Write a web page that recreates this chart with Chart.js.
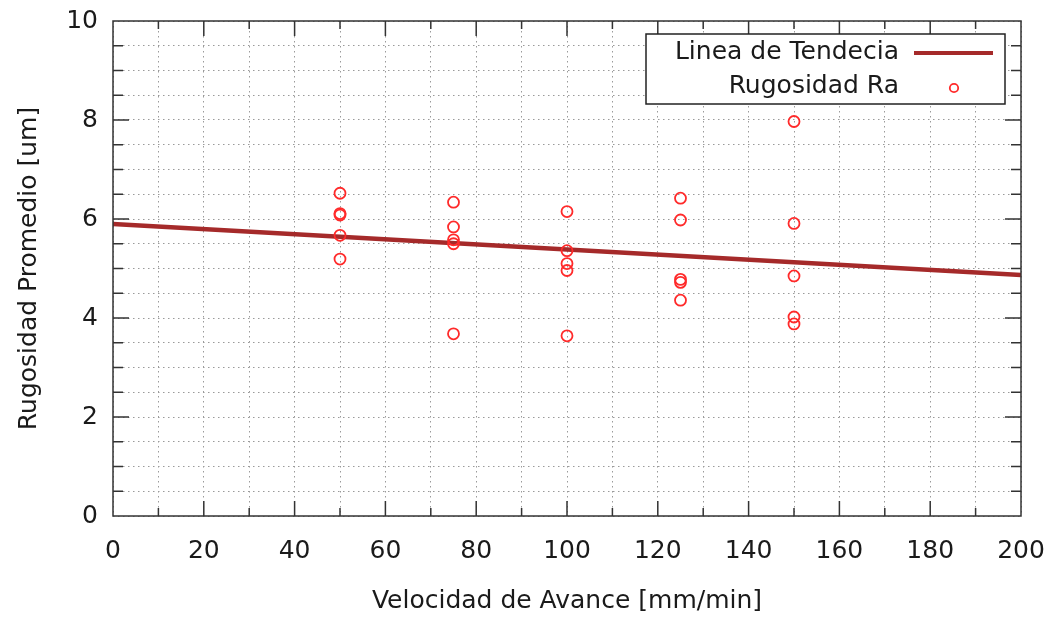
<!DOCTYPE html>
<html>
<head>
<meta charset="utf-8">
<title>Rugosidad vs Velocidad de Avance</title>
<script src="https://cdn.jsdelivr.net/npm/chart.js@4.4.1/dist/chart.umd.min.js"></script>
<style>
  html, body { margin: 0; padding: 0; background: #fff; }
  #wrap { width: 1052px; height: 619px; position: relative; }
</style>
</head>
<body>
<div id="wrap"><canvas id="chart"></canvas></div>
<script>
// datos
const velocidad = [50, 50, 50, 50, 50,
                   75, 75, 75, 75, 75,
                   100, 100, 100, 100, 100,
                   125, 125, 125, 125, 125,
                   150, 150, 150, 150, 150];
const rugosidad = [6.52, 6.11, 6.08, 5.67, 5.19,
                   6.34, 5.84, 5.58, 5.50, 3.68,
                   6.15, 5.36, 5.10, 4.96, 3.64,
                   6.42, 5.98, 4.78, 4.72, 4.36,
                   7.97, 5.91, 4.85, 4.02, 3.88];
const tendenciaX = [0, 200];
const tendenciaY = [5.90, 4.87];
const xTickLabels = [0, 20, 40, 60, 80, 100, 120, 140, 160, 180, 200];
const yTickLabels = [0, 2, 4, 6, 8, 10];

const lineColor = '#a52a2a';
const pointColor = '#ff2a2a';
const frameColor = '#333';

Chart.defaults.font.family = "'DejaVu Sans', Verdana, sans-serif";
Chart.defaults.font.size = 25;
Chart.defaults.color = '#1a1a1a';

// marco estilo gnuplot: borde, marcas hacia dentro y leyenda en caja
const gnuplotFrame = {
  id: 'gnuplotFrame',
  afterDraw(chart) {
    const ctx = chart.ctx;
    const a = chart.chartArea;
    const xs = chart.scales.x, ys = chart.scales.y;
    ctx.save();
    ctx.strokeStyle = frameColor;
    ctx.lineWidth = 1.5;
    ctx.strokeRect(a.left, a.top, a.right - a.left, a.bottom - a.top);

    ctx.beginPath();
    ys.ticks.forEach(t => {
      if (t.value <= 0 || t.value >= 10) return;
      const y = ys.getPixelForValue(t.value);
      const len = yTickLabels.includes(t.value) ? 16 : 10;
      ctx.moveTo(a.left, y); ctx.lineTo(a.left + len, y);
      ctx.moveTo(a.right, y); ctx.lineTo(a.right - len, y);
    });
    xs.ticks.forEach(t => {
      if (t.value <= 0 || t.value >= 200) return;
      const x = xs.getPixelForValue(t.value);
      const len = xTickLabels.includes(t.value) ? 15 : 8;
      ctx.moveTo(x, a.bottom); ctx.lineTo(x, a.bottom - len);
      ctx.moveTo(x, a.top); ctx.lineTo(x, a.top + len);
    });
    ctx.stroke();

    // leyenda
    const box = { left: 646, top: 34, right: 1005, bottom: 104 };
    ctx.fillStyle = '#fff';
    ctx.fillRect(box.left, box.top, box.right - box.left, box.bottom - box.top);
    ctx.strokeStyle = '#222';
    ctx.lineWidth = 1.5;
    ctx.strokeRect(box.left, box.top, box.right - box.left, box.bottom - box.top);

    const ds = chart.data.datasets;
    ctx.font = Chart.helpers.toFont(Chart.defaults.font).string;
    ctx.fillStyle = Chart.defaults.color;
    ctx.textAlign = 'right';
    ctx.textBaseline = 'middle';
    ctx.fillText(ds[0].label, 899, 52);
    ctx.fillText(ds[1].label, 899, 86);

    ctx.strokeStyle = ds[0].borderColor;
    ctx.lineWidth = 4;
    ctx.beginPath();
    ctx.moveTo(914, 53); ctx.lineTo(993, 53);
    ctx.stroke();

    ctx.strokeStyle = ds[1].borderColor;
    ctx.lineWidth = 1.8;
    ctx.beginPath();
    ctx.arc(954, 88, 4.2, 0, Math.PI * 2);
    ctx.stroke();
    ctx.restore();
  }
};

const gridStyle = {
  color: '#9a9a9a',
  lineWidth: 1,
  drawTicks: false
};
const borderStyle = { display: false, dash: [1.5, 3.5] };

new Chart(document.getElementById('chart'), {
  type: 'scatter',
  data: {
    datasets: [
      {
        type: 'line',
        label: 'Linea de Tendecia',
        data: tendenciaX.map((x, i) => ({ x: x, y: tendenciaY[i] })),
        borderColor: lineColor,
        borderWidth: 4.5,
        pointRadius: 0,
        fill: false,
        order: 1
      },
      {
        label: 'Rugosidad Ra',
        data: velocidad.map((x, i) => ({ x: x, y: rugosidad[i] })),
        borderColor: pointColor,
        backgroundColor: 'transparent',
        borderWidth: 1.8,
        pointRadius: 5.5,
        pointHoverRadius: 5.5,
        order: 0
      }
    ]
  },
  options: {
    responsive: true,
    maintainAspectRatio: false,
    animation: false,
    layout: { padding: { top: 21, right: 31, left: 0, bottom: 0 } },
    plugins: {
      legend: { display: false },
      tooltip: { enabled: false }
    },
    scales: {
      x: {
        type: 'linear',
        min: 0,
        max: 200,
        grid: gridStyle,
        border: borderStyle,
        ticks: {
          stepSize: 10,
          autoSkip: false,
          maxRotation: 0,
          padding: 20,
          callback: v => xTickLabels.includes(v) ? String(v) : ''
        },
        title: {
          display: true,
          text: 'Velocidad de Avance [mm/min]',
          padding: { top: 0, bottom: 3 }
        },
        afterFit: s => { s.height = 103; s.paddingLeft = 0; s.paddingRight = 0; }
      },
      y: {
        min: 0,
        max: 10,
        grid: gridStyle,
        border: borderStyle,
        ticks: {
          stepSize: 0.5,
          autoSkip: false,
          padding: 15,
          callback: v => yTickLabels.includes(v) ? String(v) : ''
        },
        title: {
          display: true,
          text: 'Rugosidad Promedio [um]',
          padding: { top: 14, bottom: 0 }
        },
        afterFit: s => { s.width = 113; s.paddingTop = 0; s.paddingBottom = 0; }
      }
    }
  },
  plugins: [gnuplotFrame]
});
</script>
</body>
</html>
